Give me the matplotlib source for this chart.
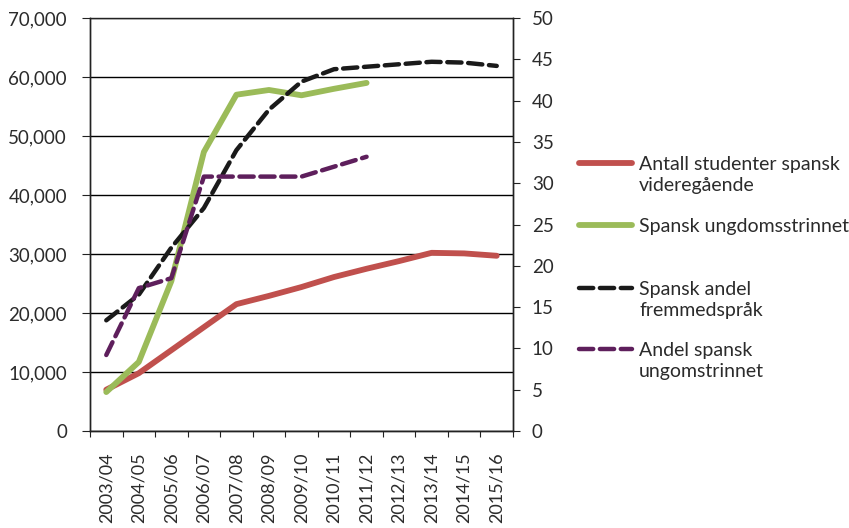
import numpy as np
import matplotlib.pyplot as plt
from matplotlib.lines import Line2D
from matplotlib.ticker import FuncFormatter

plt.rcParams['font.family'] = ['Lato', 'DejaVu Sans']

# Data
years = ['2003/04', '2004/05', '2005/06', '2006/07', '2007/08', '2008/09', '2009/10',
         '2010/11', '2011/12', '2012/13', '2013/14', '2014/15', '2015/16']
studenter_vgs = [7000, 9800, 13700, 17600, 21500, 22900, 24400, 26100, 27500, 28800, 30200, 30100, 29700]
ungdom = [6600, 11700, 25400, 47300, 57000, 57800, 56900, 58000, 59000]
andel_fremmed = [13.4, 16.5, 22.2, 27.0, 34.0, 38.9, 42.3, 43.8, 44.1, 44.4, 44.7, 44.6, 44.2]
andel_ungdom = [9.2, 17.3, 18.5, 30.8, 30.8, 30.8, 30.8, 32.0, 33.2]

labels = ['Antall studenter spansk\nvideregående', 'Spansk ungdomsstrinnet',
          'Spansk andel\nfremmedspråk', 'Andel spansk\nungomstrinnet']

red = '#C0504D'
green = '#9BBB59'
black = '#1a1a1a'
purple = '#5E1F5C'
txt = '#2b2b2b'
dash = (0, (3.2, 1.5))

fig = plt.figure(figsize=(8.49, 5.28), dpi=100)
ax = fig.add_axes([90/849, 97/528, 423/849, 413/528])
ax2 = ax.twinx()

x = np.arange(len(years))
ax.plot(x, studenter_vgs, color=red, lw=4.2, solid_capstyle='round')
ax.plot(x[:len(ungdom)], ungdom, color=green, lw=4.2, solid_capstyle='round')
ax2.plot(x, andel_fremmed, color=black, lw=3.2, ls=dash, dash_capstyle='round')
ax2.plot(x[:len(andel_ungdom)], andel_ungdom, color=purple, lw=3.2, ls=dash,
         dash_capstyle='round')

ax.set_xlim(-0.5, len(years) - 0.5)
ax.set_ylim(0, 70000)
ax2.set_ylim(0, 50)
ax.set_yticks(np.arange(0, 70001, 10000))
ax2.set_yticks(np.arange(0, 51, 5))
ax.yaxis.set_major_formatter(FuncFormatter(lambda v, p: '{:,.0f}'.format(v)))
ax.grid(axis='y', color='black', lw=1)
ax.set_axisbelow(True)

# ticks between categories, labels centred on them
ax.set_xticks(np.arange(-0.5, len(years), 1))
ax.set_xticklabels([])
ax.set_xticks(x, minor=True)
ax.set_xticklabels(years, minor=True, rotation=90)
ax.tick_params(axis='x', which='minor', length=0, pad=15.5, labelsize=13, labelcolor=txt)
ax.tick_params(axis='x', which='major', length=4.5, direction='out', color='#222222')
ax.tick_params(axis='y', direction='out', length=6, labelsize=13.5, labelcolor=txt,
               color='#222222', pad=10.5)
ax2.tick_params(axis='y', direction='out', length=5, labelsize=13.5, labelcolor=txt,
                color='#222222', pad=8.5)

for a in (ax, ax2):
    for s in a.spines.values():
        s.set_color('#222222')
        s.set_linewidth(1)
ax2.spines['top'].set_visible(False)

# legend, drawn by hand so the line sits beside the first text row
handles = [(red, '-'), (green, '-'), (black, dash), (purple, dash)]
rows = [163, 225, 288, 349]
for (c, ls), lab, yy in zip(handles, labels, rows):
    yf = 1 - yy / 528
    lw = 4.2 if ls == '-' else 3.2
    fig.add_artist(Line2D([579/849, 632/849], [yf, yf], color=c, lw=lw, ls=ls,
                          solid_capstyle='round', dash_capstyle='round'))
    fig.text(639/849, yf + 7/528, lab, fontsize=14, color=txt, va='top', ha='left',
             linespacing=1.3)

fig.savefig('out.png', dpi=100)
